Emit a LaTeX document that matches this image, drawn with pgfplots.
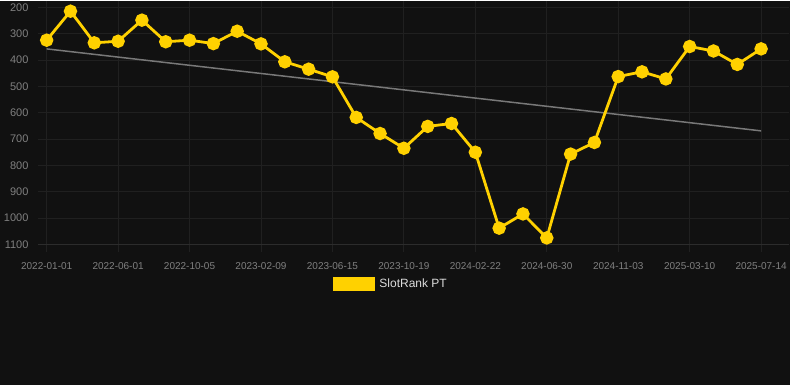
\documentclass[border=0pt]{standalone}
\usepackage{fontspec}
\setmainfont{Liberation Sans}
\usepackage{pgfplots}
\pgfplotsset{compat=1.18}
\definecolor{bg}{RGB}{17,17,17}
\definecolor{gridc}{RGB}{32,32,32}
\definecolor{axisc}{RGB}{44,44,44}
\definecolor{tickc}{RGB}{128,128,128}
\definecolor{gold}{RGB}{255,209,0}
\definecolor{trend}{RGB}{120,120,120}
\definecolor{legtext}{RGB}{220,220,220}
\begin{document}
\begin{tikzpicture}
\fill[bg] (0pt,0pt) rectangle (790pt,384pt);
\begin{axis}[
  at={(38pt,140.5pt)}, anchor=south west,
  scale only axis, width=751pt, height=243.5pt,
  xmin=-0.365, xmax=31.15,
  ymin=177, ymax=1100, y dir=reverse,
  axis line style={draw=none},
  axis x line*=bottom,
  axis y line*=left,
  xtick={0,3,...,30},
  xticklabels={2022-01-01,2022-06-01,2022-10-05,2023-02-09,2023-06-15,2023-10-19,2024-02-22,2024-06-30,2024-11-03,2025-03-10,2025-07-14},
  ytick={200,300,...,1100},
  grid=major,
  major grid style={gridc, line width=0.8pt},
  x tick style={gridc, line width=0.8pt},
  y tick style={draw=none},
  major tick length=7pt,
  tick align=outside,
  /pgf/number format/assume math mode=true,
  /pgf/number format/1000 sep={},
  xticklabel style={font=\fontsize{10}{12}\selectfont, text=tickc, yshift=-7pt},
  yticklabel style={font=\fontsize{11}{12}\selectfont, text=tickc, xshift=1pt},
  legend style={at={(0.470,-0.162)}, anchor=center, draw=none, fill=none,
    text=legtext, font=\fontsize{12}{14}\selectfont},
  legend image code/.code={\fill[gold] (0pt,-5.5pt) rectangle (40pt,5.5pt); \path (42pt,0pt);},
  clip=false,
]
\draw[axisc, line width=0.8pt] (axis cs:-0.365,1100) -- (axis cs:31.15,1100);
\addplot[trend, line width=1.5pt, forget plot] coordinates {(0,358) (30,669)};
\addplot[gold, line width=2.8pt, mark=*, mark size=5.3pt, mark options={fill=gold, draw=none}] coordinates {
(0,325) (1,215) (2,335) (3,329) (4,249) (5,331) (6,325) (7,338) (8,291) (9,339)
(10,407) (11,435) (12,464) (13,618) (14,679) (15,735) (16,652) (17,641) (18,750) (19,1038)
(20,984) (21,1075) (22,757) (23,713) (24,463) (25,445) (26,472) (27,349) (28,366) (29,417) (30,358)
};
\addlegendentry{SlotRank PT}
\end{axis}
\end{tikzpicture}
\end{document}
